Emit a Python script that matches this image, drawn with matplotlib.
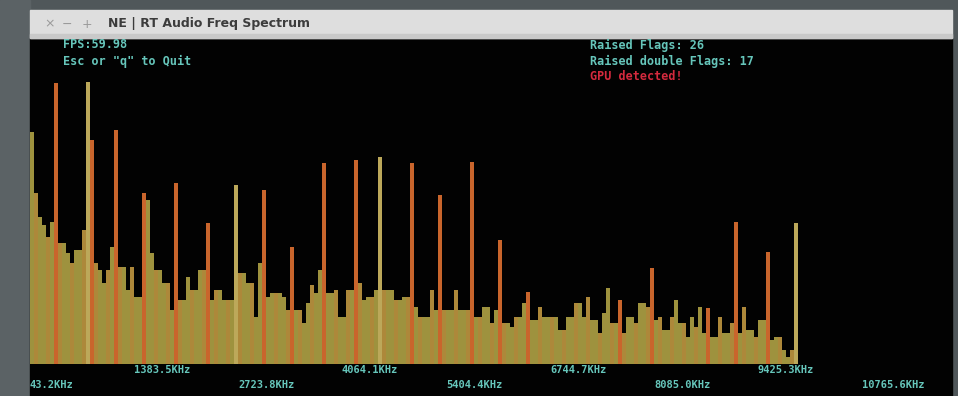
import numpy as np
import matplotlib.pyplot as plt
from matplotlib.patches import Rectangle

# spectrum magnitudes, one per bin (screen-ish units)
magnitudes = [
    232, 171, 147, 139, 127, 142, 281, 121, 121, 111, 101, 114, 114, 134, 282, 224,
    101, 94, 81, 94, 117, 234, 97, 97, 74, 97, 67, 67, 171, 164, 111, 94,
    94, 81, 81, 54, 181, 64, 64, 87, 74, 74, 94, 94, 141, 64, 74, 74,
    64, 64, 64, 179, 91, 91, 81, 81, 47, 101, 174, 67, 71, 71, 71, 67,
    54, 117, 54, 54, 41, 61, 79, 71, 94, 201, 71, 71, 74, 47, 47, 74,
    74, 204, 81, 64, 67, 67, 74, 207, 74, 74, 74, 64, 64, 67, 67, 201,
    57, 47, 47, 47, 74, 54, 169, 54, 54, 54, 74, 54, 54, 54, 202, 47,
    47, 57, 57, 41, 54, 124, 41, 41, 37, 47, 47, 61, 72, 44, 44, 57,
    47, 47, 47, 47, 34, 34, 47, 47, 61, 61, 47, 67, 44, 44, 31, 51,
    76, 41, 41, 64, 31, 47, 47, 41, 61, 61, 57, 96, 44, 47, 34, 34,
    47, 64, 41, 41, 27, 47, 37, 57, 31, 56, 27, 27, 47, 31, 31, 41,
    142, 31, 57, 34, 34, 27, 44, 44, 112, 24, 27, 27, 14, 7, 14, 141,
]
# bins with a raised flag (drawn orange)
flagged_bins = [6, 15, 21, 28, 36, 44, 58, 65, 73, 81, 95, 102, 110, 117, 124,
                147, 155, 169, 176, 184]
# tall bins that are not flagged (pale)
pale_bins = [14, 51, 87, 191]

freq_labels = ["43.2KHz", "1383.5KHz", "2723.8KHz", "4064.1KHz", "5404.4KHz",
               "6744.7KHz", "8085.0KHz", "9425.3KHz", "10765.6KHz"]
label_step = 26  # bins between labels

fps_text = "FPS:59.98"
quit_text = 'Esc or "q" to Quit'
flags_text = "Raised Flags: 26"
double_text = "Raised double Flags: 17"
gpu_text = "GPU detected!"
title = "NE | RT Audio Freq Spectrum"

W, H = 958, 396
fig = plt.figure(figsize=(W / 100, H / 100), dpi=100)
fig.patch.set_facecolor("#50575a")

# window frame
bg = fig.add_axes([0, 0, 1, 1])
bg.set_xlim(0, W)
bg.set_ylim(H, 0)
bg.axis("off")
bg.add_patch(Rectangle((0, 0), 30, H, color="#5b6265"))
bg.add_patch(Rectangle((30, 38), 922, H - 38, color="#020202"))
bg.add_patch(Rectangle((30, 10), 922, 28, color="#dedede"))
bg.add_patch(Rectangle((30, 34), 922, 4, color="#c9c9c9"))
bg.text(44, 24, "\u00d7", color="#9a9a9a", fontsize=9, va="center")
bg.text(62, 24, "\u2212", color="#9a9a9a", fontsize=9, va="center")
bg.text(82, 24, "+", color="#9a9a9a", fontsize=9, va="center")
bg.text(108, 24, title, color="#3c3c3c", fontsize=9, fontweight="bold", va="center")

mono = "DejaVu Sans Mono"
cyan = "#66c6bb"
bg.text(63, 45, fps_text, color=cyan, fontsize=8.5, family=mono, va="center", fontweight="bold")
bg.text(63, 61, quit_text, color=cyan, fontsize=8.5, family=mono, va="center", fontweight="bold")
bg.text(590, 45, flags_text, color=cyan, fontsize=8.5, family=mono, va="center", fontweight="bold")
bg.text(590, 61, double_text, color=cyan, fontsize=8.5, family=mono, va="center", fontweight="bold")
bg.text(590, 77, gpu_text, color="#d42a3e", fontsize=8.5, family=mono, va="center", fontweight="bold")

# spectrum
ax = fig.add_axes([30 / W, (H - 364) / H, 922 / W, 324 / H])
ax.set_facecolor("none")
ax.set_xlim(0, 922 / 4)
ax.set_ylim(0, 324)
ax.axis("off")

bins = np.arange(len(magnitudes))
colors = []
for b in bins:
    if b in flagged_bins:
        colors.append("#c9652c")
    elif b in pale_bins:
        colors.append("#bca85a")
    elif b % 3 == 1:
        colors.append("#ad883a")
    else:
        colors.append("#9e923e")
ax.bar(bins, magnitudes, width=0.9, align="edge", color=colors, linewidth=0)

for i, lab in enumerate(freq_labels):
    dy = -4.5 if i % 2 else -15
    ax.annotate(lab, xy=(i * label_step, 0), xycoords=("data", "axes fraction"),
                xytext=(0, dy), textcoords="offset points", color=cyan,
                fontsize=7.5, family=mono, fontweight="bold", va="center",
                ha="left", annotation_clip=False)

fig.savefig("out.png", dpi=100, facecolor=fig.get_facecolor())
